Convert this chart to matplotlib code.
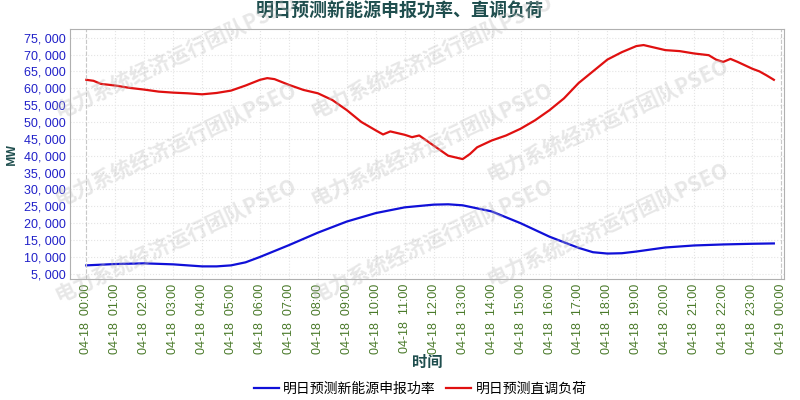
import numpy as np
import matplotlib.pyplot as plt

plt.rcParams['font.family'] = ['Noto Sans CJK SC', 'DejaVu Sans']

# hours from 04-18 00:00
red_t = [0, 0.25, 0.5, 1, 1.5, 2, 2.5, 3, 3.5, 4, 4.5, 5, 5.5, 6, 6.25, 6.5, 7, 7.5, 8, 8.5, 9, 9.5,
         10, 10.25, 10.5, 11, 11.25, 11.5, 12, 12.5, 13, 13.25, 13.5, 14, 14.5, 15, 15.5, 16, 16.5,
         17, 17.5, 18, 18.5, 19, 19.25, 19.5, 20, 20.5, 21, 21.5, 21.75, 22, 22.25, 22.5, 23, 23.25, 23.5, 23.75]
red_v = [62500, 62200, 61300, 60800, 60100, 59600, 59000, 58700, 58500, 58200, 58600, 59300, 60800, 62500, 63000, 62700,
         61000, 59500, 58500, 56500, 53500, 50000, 47500, 46300, 47200, 46200, 45500, 46000, 43000, 40000, 39000, 40500,
         42500, 44500, 46000, 48000, 50500, 53500, 57000, 61500, 65000, 68500, 70700, 72500, 72800, 72300, 71300, 71000,
         70300, 69800, 68500, 67800, 68700, 67800, 65800, 65000, 63800, 62500]
blue_t = [0, 1, 2, 3, 4, 4.5, 5, 5.5, 6, 7, 8, 9, 10, 11, 12, 12.5, 13, 14, 15, 16, 17, 17.5, 18, 18.5, 19, 20, 21, 22, 23, 23.75]
blue_v = [7500, 7900, 8100, 7800, 7200, 7200, 7500, 8400, 10000, 13500, 17200, 20500, 23000, 24700, 25500, 25600, 25300,
          23500, 20000, 16000, 12700, 11400, 11000, 11100, 11600, 12800, 13400, 13700, 13900, 14000]
hour_labels = [f"04-18  {h:02d}:00" for h in range(24)] + ["04-19  00:00"]

fig = plt.figure(figsize=(8, 4), dpi=100)
ax = fig.add_axes([0.088, 0.302, 0.892, 0.625])
ax.plot(blue_t, blue_v, color='#1010d8', lw=1.6, label='明日预测新能源申报功率')
ax.plot(red_t, red_v, color='#e01010', lw=1.6, label='明日预测直调负荷')

ax.set_xlim(-0.55, 24.1)
ax.set_ylim(3400, 77500)
ax.set_xticks(range(25))
ax.set_xticklabels(hour_labels, rotation=90, color='#4a7a2a', fontsize=9, family='Liberation Sans')
ax.set_yticks(range(5000, 75001, 5000))
ax.set_yticklabels([f"{v:,}".replace(',', ', ') for v in range(5000, 75001, 5000)], color='#2020c8', fontsize=9,
                   family='Liberation Sans')
ax.tick_params(length=0)
ax.grid(True, color='#e4e4e4', ls=':', lw=0.8)
for x in (0, 24):
    ax.axvline(x, color='#c8c8c8', ls='--', lw=0.8)
for s in ax.spines.values():
    s.set_color('#b0b0b0')
ax.set_ylabel('MW', color='#1f4e4e', fontsize=9, fontweight='bold')
ax.set_xlabel('时间', color='#1f4e4e', fontsize=11, fontweight='bold', labelpad=0)
fig.suptitle('明日预测新能源申报功率、直调负荷', x=0.5, y=0.995, color='#1f4e4e', fontsize=13, fontweight='bold')
ax.legend(loc='upper center', bbox_to_anchor=(0.49, -0.36), ncol=2, frameon=False, fontsize=10,
          handlelength=1.8, columnspacing=0.8, handletextpad=0.3)

for (wx, wy) in [(0.22, 0.86), (0.54, 0.86), (0.22, 0.64), (0.54, 0.64), (0.76, 0.70), (0.22, 0.40), (0.54, 0.40), (0.76, 0.44)]:
    fig.text(wx, wy, '电力系统经济运行团队PSEO', rotation=25, fontsize=15, color='#bbbbbb', alpha=0.35,
             ha='center', va='center', fontweight='bold')

fig.savefig('out.png')
